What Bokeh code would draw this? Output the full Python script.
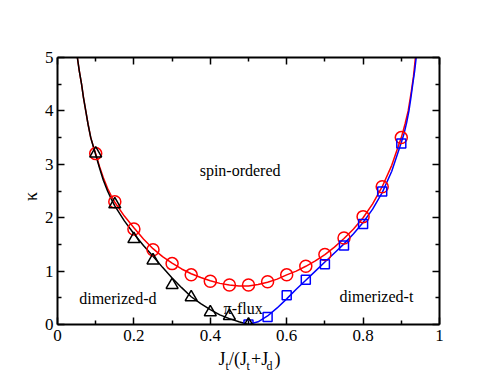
import math
from bokeh.plotting import figure
from bokeh.models import Range1d, LinearAxis, FixedTicker, Label
from bokeh.layouts import column, row
from bokeh.core.properties import value
from bokeh.embed import file_html
from bokeh.resources import INLINE

# ---------------- data ----------------
tri_x = [0.10, 0.15, 0.20, 0.25, 0.30, 0.35, 0.40, 0.45, 0.50]
tri_y = [3.20, 2.25, 1.60, 1.20, 0.74, 0.51, 0.23, 0.16, 0.00]

circ_x = [0.10, 0.15, 0.20, 0.25, 0.30, 0.35, 0.40, 0.45, 0.50,
          0.55, 0.60, 0.65, 0.70, 0.75, 0.80, 0.85, 0.90]
circ_y = [3.20, 2.30, 1.79, 1.40, 1.14, 0.93, 0.81, 0.74, 0.74,
          0.80, 0.93, 1.09, 1.31, 1.62, 2.02, 2.58, 3.50]

sq_x = [0.50, 0.55, 0.60, 0.65, 0.70, 0.75, 0.80, 0.85, 0.90]
sq_y = [0.00, 0.14, 0.55, 0.84, 1.13, 1.48, 1.88, 2.49, 3.39]

# fitted curves
black_x = [0.052, 0.057, 0.063, 0.068, 0.074, 0.080, 0.087, 0.095, 0.100, 0.110,
           0.120, 0.131, 0.140, 0.150, 0.175, 0.200, 0.225, 0.250, 0.275, 0.300,
           0.325, 0.350, 0.375, 0.400, 0.425, 0.450, 0.475, 0.500]
black_y = [5.00, 4.75, 4.50, 4.25, 4.00, 3.75, 3.50, 3.30, 3.18, 2.93,
           2.70, 2.50, 2.36, 2.22, 1.94, 1.70, 1.48, 1.28, 1.07, 0.87,
           0.69, 0.52, 0.39, 0.28, 0.18, 0.11, 0.05, 0.00]

red_x = [0.052, 0.057, 0.063, 0.068, 0.074, 0.080, 0.087, 0.095, 0.100, 0.110,
         0.120, 0.131, 0.140, 0.150, 0.175, 0.200, 0.225, 0.250, 0.275, 0.300,
         0.325, 0.350, 0.375, 0.400, 0.425, 0.450, 0.475, 0.500, 0.525, 0.550,
         0.575, 0.600, 0.625, 0.650, 0.675, 0.700, 0.725, 0.750, 0.775, 0.800,
         0.825, 0.850, 0.875, 0.900, 0.910, 0.918, 0.926, 0.932, 0.937]
red_y = [5.00, 4.75, 4.50, 4.25, 4.00, 3.75, 3.50, 3.31, 3.20, 2.96,
         2.75, 2.55, 2.42, 2.29, 2.03, 1.81, 1.60, 1.42, 1.27, 1.15,
         1.04, 0.95, 0.88, 0.82, 0.77, 0.74, 0.72, 0.72, 0.75, 0.79,
         0.85, 0.93, 1.00, 1.09, 1.19, 1.31, 1.45, 1.61, 1.79, 2.00,
         2.26, 2.58, 2.98, 3.50, 3.76, 4.00, 4.35, 4.65, 5.00]

blue_x = [0.500, 0.525, 0.550, 0.575, 0.600, 0.625, 0.650, 0.675, 0.700, 0.725,
          0.750, 0.775, 0.800, 0.825, 0.850, 0.875, 0.900, 0.907, 0.914, 0.920,
          0.925, 0.930, 0.935, 0.939]
blue_y = [0.00, 0.05, 0.16, 0.31, 0.48, 0.66, 0.83, 1.00, 1.17, 1.34,
          1.51, 1.70, 1.91, 2.16, 2.47, 2.87, 3.41, 3.57, 3.78, 4.00,
          4.24, 4.50, 4.75, 5.00]

x_ticks = [0, 0.2, 0.4, 0.6, 0.8, 1.0]
x_tick_labels = ["0", "0.2", "0.4", "0.6", "0.8", "1"]
x_minor = [0.1, 0.3, 0.5, 0.7, 0.9]
y_ticks = [0, 1, 2, 3, 4, 5]
y_tick_labels = ["0", "1", "2", "3", "4", "5"]
y_minor = [0.5, 1.5, 2.5, 3.5, 4.5]

region_labels = ["spin-ordered", "dimerized-d", "\u03c0-flux", "dimerized-t"]
x_label_parts = ["J", "t", "/(J", "t", "+J", "d", ")"]
y_label = "\u03ba"

FONT = "Liberation Serif, Times New Roman, DejaVu Serif, serif"
LEFT_STRIP = 40
BORDER_L = 17

p = figure(frame_width=382, frame_height=267, x_range=Range1d(0, 1), y_range=Range1d(0, 5),
           output_backend="svg", toolbar_location=None,
           min_border_left=BORDER_L, min_border_right=47, min_border_top=57,
           min_border_bottom=26)
p.xgrid.visible = False
p.ygrid.visible = False
p.outline_line_color = None


def style(ax, ticks, minor, labels, show_labels=True):
    ax.ticker = FixedTicker(ticks=ticks, minor_ticks=minor)
    ax.major_label_overrides = {t: l for t, l in zip(ticks, labels)}
    ax.axis_line_width = 2
    ax.axis_line_color = "black"
    ax.major_tick_in = 7
    ax.major_tick_out = 0
    ax.minor_tick_in = 4
    ax.minor_tick_out = 0
    ax.major_tick_line_width = 1.5
    ax.minor_tick_line_width = 1.5
    ax.major_label_text_font = FONT
    ax.major_label_standoff = 5
    ax.major_label_text_font_size = "17px"
    ax.major_label_text_color = "black" if show_labels else None


style(p.xaxis[0], x_ticks, x_minor, x_tick_labels)
style(p.yaxis[0], y_ticks, y_minor, y_tick_labels)
p.yaxis[0].major_label_standoff = 4
top = LinearAxis()
right = LinearAxis()
style(top, x_ticks, x_minor, x_tick_labels, False)
style(right, y_ticks, y_minor, y_tick_labels, False)
p.add_layout(top, "above")
p.add_layout(right, "right")

# curves
p.line(red_x, red_y, line_color="red", line_width=1.5)
p.line(black_x, black_y, line_color="black", line_width=1.5)
p.line(blue_x, blue_y, line_color="blue", line_width=1.5)

# markers
p.scatter(circ_x, circ_y, marker="circle", size=12, fill_color=None,
          line_color="red", line_width=1.5)
p.scatter(sq_x, sq_y, marker="square", size=9, fill_color=None,
          line_color="blue", line_width=1.5)
p.scatter(tri_x, tri_y, marker="triangle", size=12, fill_color=None,
          line_color="black", line_width=1.5)

# region labels
for (lx, ly), txt in zip([(0.478, 2.88), (0.158, 0.49), (0.486, 0.30), (0.835, 0.52)],
                         region_labels):
    p.add_layout(Label(x=lx, y=ly, text=txt, text_align="center",
                       text_baseline="alphabetic", text_font=FONT,
                       text_font_size="16px", text_color="black"))

# x axis label J_t/(J_t+J_d), drawn in a strip under the plot
p2 = figure(frame_width=382, frame_height=24, x_range=Range1d(0, 1), y_range=Range1d(0, 24),
            output_backend="svg", toolbar_location=None,
            x_axis_location=None, y_axis_location=None,
            min_border_left=BORDER_L, min_border_right=47, min_border_top=0,
            min_border_bottom=0)
p2.outline_line_color = None
p2.grid.visible = False

offsets = [(161, 16, "18px"), (168, 9, "12px"), (171.5, 16, "18px"), (189, 9, "12px"),
           (193.5, 16, "18px"), (209, 9, "12px"), (217, 16, "18px")]
for txt, (xo, yy, fs) in zip(x_label_parts, offsets):
    p2.text(x=[0], y=[yy], text=[txt], x_offset=xo, text_align="left",
            text_baseline="alphabetic", text_font=value(FONT),
            text_font_size=fs, text_color="black")

# y axis label (kappa), drawn in a strip left of the plot
p3 = figure(frame_width=LEFT_STRIP, frame_height=374, x_range=Range1d(0, LEFT_STRIP),
            y_range=Range1d(0, 374),
            output_backend="svg", toolbar_location=None,
            x_axis_location=None, y_axis_location=None,
            min_border_left=0, min_border_right=0, min_border_top=0,
            min_border_bottom=0)
p3.outline_line_color = None
p3.grid.visible = False
p3.text(x=[30], y=[374 - 196], text=[y_label], angle=math.pi / 2,
        text_align="center", text_baseline="middle", text_font=value(FONT),
        text_font_size="18px", text_color="black")

layout = row(p3, column(p, p2))
open("out.html", "w").write(file_html(layout, INLINE))
